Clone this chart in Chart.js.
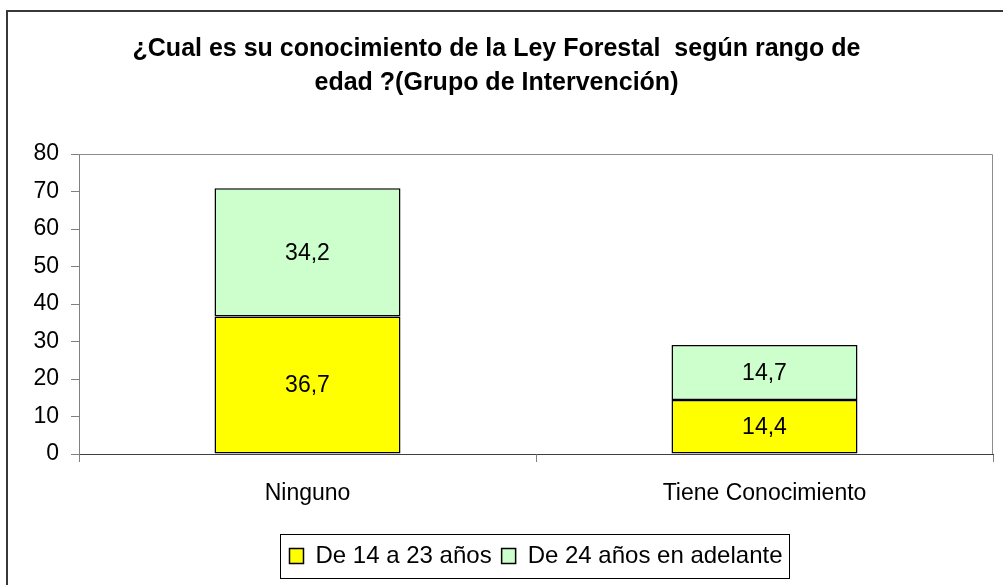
<!DOCTYPE html>
<html><head><meta charset="utf-8">
<script src="https://cdn.jsdelivr.net/npm/chart.js@4"></script>
<style>html,body{margin:0;padding:0;background:#fff}#wrap{width:1003px;height:585px;position:relative}</style>
</head><body><div id="wrap"><canvas id="c" width="1003" height="585"></canvas></div>
<script>
const titleLines = ['¿Cual es su conocimiento de la Ley Forestal  según rango de', 'edad ?(Grupo de Intervención)'];
const categories = ['Ninguno', 'Tiene Conocimiento'];
const seriesNames = ['De 14 a 23 años', 'De 24 años en adelante'];
const young = [36.7, 14.4];
const older = [34.2, 14.7];
const yMin = 0, yMax = 80, yStep = 10;

const FONT = 'Arial, "Liberation Sans", sans-serif';

const framePlugin = {
  id: 'frame',
  beforeDraw(chart) {
    const ctx = chart.ctx;
    ctx.save();
    ctx.fillStyle = '#fff';
    ctx.fillRect(0, 0, chart.width, chart.height);
    ctx.strokeStyle = '#383838';
    ctx.lineWidth = 2;
    ctx.strokeRect(7, 11, chart.width + 10, chart.height + 10);
    ctx.restore();
  },
  beforeDatasetsDraw(chart) {
    const a = chart.chartArea, ctx = chart.ctx;
    ctx.save();
    ctx.strokeStyle = '#8c8c8c';
    ctx.lineWidth = 1;
    ctx.beginPath();
    ctx.moveTo(Math.round(a.left) + 0.5, Math.round(a.top) + 0.5);
    ctx.lineTo(Math.round(a.right) - 0.5, Math.round(a.top) + 0.5);
    ctx.lineTo(Math.round(a.right) - 0.5, Math.round(a.bottom));
    ctx.stroke();
    ctx.restore();
  },
  afterDraw(chart) {
    const ctx = chart.ctx;
    ctx.save();
    ctx.fillStyle = '#000';
    ctx.font = '23px ' + FONT;
    ctx.textAlign = 'center';
    ctx.textBaseline = 'middle';
    chart.data.datasets.forEach((ds, i) => {
      chart.getDatasetMeta(i).data.forEach((bar, j) => {
        const v = ds.data[j];
        ctx.fillText(v.toFixed(1).replace('.', ','), bar.x, (bar.y + bar.base) / 2 + 1);
      });
    });
    const lg = chart.legend;
    if (lg && lg.legendHitBoxes && lg.legendHitBoxes.length) {
      const hb = lg.legendHitBoxes;
      const l = Math.min(...hb.map(h => h.left));
      const r = Math.max(...hb.map(h => h.left + h.width));
      const t = Math.min(...hb.map(h => h.top));
      const b = Math.max(...hb.map(h => h.top + h.height));
      ctx.strokeStyle = '#000';
      ctx.lineWidth = 1;
      ctx.strokeRect(Math.round(l - 9) + 0.5, Math.round(t - 10) + 0.5, Math.round(r - l + 16), Math.round(b - t + 20));
    }
    ctx.restore();
  }
};

new Chart(document.getElementById('c'), {
  type: 'bar',
  data: {
    labels: categories,
    datasets: [
      { label: seriesNames[0], data: young, backgroundColor: '#ffff00', borderColor: '#000', borderWidth: 1.5, borderSkipped: false, categoryPercentage: 1, barPercentage: 0.407 },
      { label: seriesNames[1], data: older, backgroundColor: '#ccffcc', borderColor: '#000', borderWidth: 1.5, borderSkipped: false, categoryPercentage: 1, barPercentage: 0.407 }
    ]
  },
  options: {
    responsive: false,
    animation: false,
    devicePixelRatio: 1,
    layout: { padding: { left: 0, right: 10, top: 0, bottom: 7 } },
    plugins: {
      title: {
        display: true, text: titleLines, color: '#000',
        font: { family: FONT, size: 25, weight: 'bold', lineHeight: 1.36 },
        padding: { top: 32, bottom: 54 }
      },
      legend: {
        position: 'bottom',
        fullSize: false,
        labels: { color: '#000', font: { family: FONT, size: 24 }, boxWidth: 14, boxHeight: 15, padding: 10 }
      },
      tooltip: { enabled: false }
    },
    scales: {
      x: {
        stacked: true,
        grid: { offset: true, drawOnChartArea: false, drawTicks: true, tickLength: 8, color: '#808080' },
        border: { color: '#404040', width: 1 },
        ticks: { color: '#000', font: { family: FONT, size: 23 }, padding: 18, maxRotation: 0 },
        afterFit(s) { s.height = 80; }
      },
      y: {
        stacked: true, min: yMin, max: yMax,
        grid: { drawOnChartArea: false, drawTicks: true, tickLength: 8, color: '#808080' },
        border: { color: '#808080', width: 1 },
        ticks: { stepSize: yStep, color: '#000', font: { family: FONT, size: 23 }, padding: 12 },
        afterFit(s) { s.width = 79; }
      }
    }
  },
  plugins: [framePlugin]
});
</script>
</body></html>
